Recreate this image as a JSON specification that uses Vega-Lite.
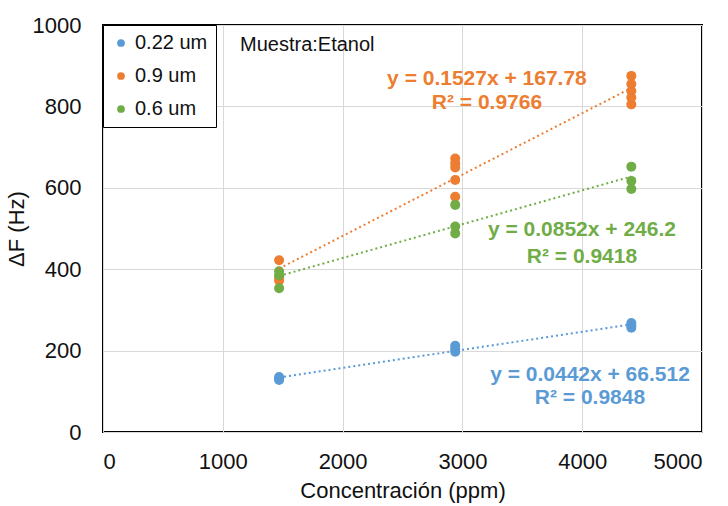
{
  "$schema": "https://vega.github.io/schema/vega-lite/v6.json",
  "width": 599,
  "height": 407,
  "autosize": {"type": "none"},
  "padding": {"left": 103, "top": 25, "right": 26, "bottom": 74},
  "background": "white",
  "config": {
    "font": "Liberation Sans",
    "view": {"stroke": "black", "strokeWidth": 2},
    "axis": {
      "labelFont": "Liberation Sans",
      "titleFont": "Liberation Sans",
      "labelFontSize": 22,
      "titleFontSize": 22,
      "titleFontWeight": "normal",
      "labelColor": "#111",
      "titleColor": "#111",
      "gridColor": "#d9d9d9",
      "gridWidth": 1,
      "domain": false,
      "ticks": false
    }
  },
  "datasets": {
    "pts": [
      {"series": "0.22 um", "x": 1470, "y": 128},
      {"series": "0.22 um", "x": 1470, "y": 135},
      {"series": "0.22 um", "x": 1470, "y": 131},
      {"series": "0.22 um", "x": 2940, "y": 197},
      {"series": "0.22 um", "x": 2940, "y": 204},
      {"series": "0.22 um", "x": 2940, "y": 212},
      {"series": "0.22 um", "x": 4410, "y": 256},
      {"series": "0.22 um", "x": 4410, "y": 262},
      {"series": "0.22 um", "x": 4410, "y": 268},
      {"series": "0.9 um", "x": 1470, "y": 422},
      {"series": "0.9 um", "x": 1470, "y": 380},
      {"series": "0.9 um", "x": 1470, "y": 372},
      {"series": "0.9 um", "x": 2940, "y": 672},
      {"series": "0.9 um", "x": 2940, "y": 660},
      {"series": "0.9 um", "x": 2940, "y": 650},
      {"series": "0.9 um", "x": 2940, "y": 619},
      {"series": "0.9 um", "x": 2940, "y": 578},
      {"series": "0.9 um", "x": 4410, "y": 875},
      {"series": "0.9 um", "x": 4410, "y": 855},
      {"series": "0.9 um", "x": 4410, "y": 838},
      {"series": "0.9 um", "x": 4410, "y": 822},
      {"series": "0.9 um", "x": 4410, "y": 805},
      {"series": "0.6 um", "x": 1470, "y": 395},
      {"series": "0.6 um", "x": 1470, "y": 385},
      {"series": "0.6 um", "x": 1470, "y": 353},
      {"series": "0.6 um", "x": 2940, "y": 558},
      {"series": "0.6 um", "x": 2940, "y": 505},
      {"series": "0.6 um", "x": 2940, "y": 488},
      {"series": "0.6 um", "x": 4410, "y": 652},
      {"series": "0.6 um", "x": 4410, "y": 617},
      {"series": "0.6 um", "x": 4410, "y": 597}
    ],
    "labels": [
      {"series": "0.9 um", "x": 3205, "y": 867, "text": "y = 0.1527x + 167.78"},
      {"series": "0.9 um", "x": 3205, "y": 808, "text": "R² = 0.9766"},
      {"series": "0.6 um", "x": 3998, "y": 496, "text": "y = 0.0852x + 246.2"},
      {"series": "0.6 um", "x": 3998, "y": 430, "text": "R² = 0.9418"},
      {"series": "0.22 um", "x": 4065, "y": 140, "text": "y = 0.0442x + 66.512"},
      {"series": "0.22 um", "x": 4065, "y": 84, "text": "R² = 0.9848"}
    ],
    "note": [
      {"x": 1144, "y": 951, "text": "Muestra:Etanol"}
    ]
  },
  "layer": [
    {
      "data": {"name": "pts"},
      "mark": {"type": "circle", "size": 100, "opacity": 1},
      "encoding": {
        "x": {
          "field": "x", "type": "quantitative",
          "scale": {"domain": [0, 5000], "nice": false},
          "axis": {"values": [0, 1000, 2000, 3000, 4000, 5000], "title": "Concentración (ppm)", "labelPadding": 19, "titlePadding": 8, "format": "d"}
        },
        "y": {
          "field": "y", "type": "quantitative",
          "scale": {"domain": [0, 1000], "nice": false},
          "axis": {"values": [0, 200, 400, 600, 800, 1000], "title": "ΔF (Hz)", "labelPadding": 22, "titlePadding": 4, "format": "d"}
        },
        "color": {
          "field": "series", "type": "nominal",
          "scale": {"domain": ["0.22 um", "0.9 um", "0.6 um"], "range": ["#5B9BD5", "#ED7D31", "#70AD47"]},
          "legend": {
            "title": null,
            "orient": "top-left",
            "offset": 0,
            "labelFontSize": 20,
            "labelFont": "Liberation Sans",
            "labelColor": "#111",
            "symbolType": "circle",
            "symbolSize": 60,
            "symbolStrokeWidth": 0,
            "rowPadding": 13,
            "padding": 8,
            "strokeColor": "black",
            "fillColor": "white",
            "labelOffset": 4
          }
        }
      }
    },
    {
      "data": {"name": "pts"},
      "transform": [
        {"regression": "y", "on": "x", "groupby": ["series"]}
      ],
      "mark": {"type": "line", "strokeDash": [2, 3], "strokeWidth": 2},
      "encoding": {
        "x": {"field": "x", "type": "quantitative"},
        "y": {"field": "y", "type": "quantitative"},
        "color": {"field": "series", "type": "nominal"}
      }
    },
    {
      "data": {"name": "labels"},
      "mark": {"type": "text", "fontWeight": "bold", "fontSize": 21, "align": "center", "baseline": "middle"},
      "encoding": {
        "x": {"field": "x", "type": "quantitative"},
        "y": {"field": "y", "type": "quantitative"},
        "text": {"field": "text"},
        "color": {"field": "series", "type": "nominal"}
      }
    },
    {
      "data": {"name": "note"},
      "mark": {"type": "text", "fontSize": 20, "align": "left", "baseline": "middle", "color": "#111"},
      "encoding": {
        "x": {"field": "x", "type": "quantitative"},
        "y": {"field": "y", "type": "quantitative"},
        "text": {"field": "text"}
      }
    }
  ]
}
